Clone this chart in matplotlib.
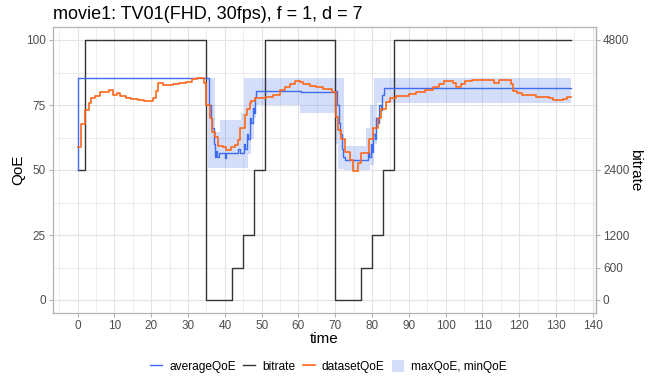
import matplotlib
matplotlib.use("Agg")
import matplotlib.pyplot as plt
from matplotlib.lines import Line2D
from matplotlib.patches import Patch
from matplotlib.ticker import MultipleLocator

# bitrate steps (kbps), value holds until the next time
bitrate_t = [0, 2, 35, 42, 45, 48, 51, 70, 77, 80, 83, 86, 134.2]
bitrate_v = [2400, 4800, 0, 600, 1200, 2400, 4800, 0, 600, 1200, 2400, 4800, 4800]

# averageQoE
avg_t = [0, 0.1, 35.6, 35.8, 36.2, 36.5, 37.0, 37.3, 37.6, 38.0, 38.5, 40.0, 40.4,
         43.5, 44.0, 44.8, 45.2, 45.6, 46.0, 46.4, 46.8, 47.2, 47.6, 48.0, 48.3, 48.6,
         60.7, 70.3, 70.6, 71.0, 71.4, 71.8, 72.2, 72.6, 78.5, 78.8, 79.2, 79.6, 80.0,
         80.4, 80.8, 81.2, 81.6, 82.0, 82.4, 82.8, 83.2, 134.2]
avg_v = [50, 85.5, 85.5, 75, 70, 66, 60, 55, 57.5, 55, 56.7, 54.5, 56.7,
         58, 56.7, 56.7, 60, 58, 64, 62, 70, 68, 74, 72, 78, 80.5,
         79.9, 80.2, 75, 68, 64, 58, 55, 53.8, 53.8, 57, 55, 60, 57,
         64, 62, 70, 68, 75, 73, 79, 81.5, 81.5]

# maxQoE / minQoE ribbon
rib_t = [0, 0.1, 35.0, 35.5, 37.3, 38.6, 44.5, 45.2, 46.2, 47.0, 47.8, 48.5,
         60.5, 70.2, 70.8, 72.3, 78.5, 79.5, 80.5, 81.3, 134.2]
rib_max = [50, 85.5, 85.5, 85.5, 64.7, 69.2, 72, 85.5, 85.5, 85.5, 85.5, 85.5,
           85.5, 85.5, 85.5, 59.2, 66, 75, 85.5, 85.5, 85.5]
rib_min = [50, 85.5, 85.5, 50.6, 50.6, 50.6, 50.6, 50.6, 56, 62, 70, 75,
           71.8, 60, 50.5, 50, 50, 52, 60, 75.6, 75.6]

# datasetQoE
ds_t = [0, 0.8, 2.0, 3.0, 3.7, 4.8, 6.0, 7.5, 8.5, 9.5, 10.6, 11.5, 13.2, 14.6,
        16.3, 18.0, 20.4, 21.3, 21.7, 23.1, 25.8, 27.6, 29.4, 31.2, 32.5, 33.9,
        34.3, 34.8, 36.0, 36.6, 37.3, 38.2, 39.5, 40.4, 41.8, 42.7, 43.6, 44.2,
        45.4, 46.0, 46.8, 47.2, 48.1, 51.3, 53.1, 54.9, 56.3, 57.6, 59.0, 60.4,
        61.3, 63.1, 64.9, 66.7, 69.0, 70.1, 70.8, 71.7, 72.8, 74.0, 74.9, 76.1,
        77.0, 79.1, 80.4, 81.6, 82.5, 83.7, 84.8, 86.6, 90.2, 92.0, 94.3, 96.5,
        98.3, 99.7, 101.9, 102.8, 104.2, 105.3, 107.3, 113.2, 114.4, 117.7,
        118.4, 119.5, 120.9, 124.5, 128.2, 129.1, 131.8, 133.0, 134.2]
ds_v = [58.7, 67.6, 73.1, 75.9, 77.6, 78.6, 80.1, 79.9, 80.6, 78.8, 79.5, 78.6,
        77.8, 77.3, 76.9, 76.5, 77.8, 80.4, 83.3, 82.7, 83.1, 83.6, 84.0, 84.9,
        85.5, 85.2, 83.6, 75.0, 69.9, 64.7, 62.8, 59.2, 58.7, 57.7, 58.7, 59.6,
        61.5, 66.0, 71.2, 73.3, 75.9, 76.7, 77.6, 78.2, 78.8, 80.8, 82.1, 83.1,
        84.4, 83.8, 83.1, 82.3, 81.8, 81.2, 80.1, 70.5, 65.4, 61.8, 57.0, 53.8,
        49.7, 52.6, 56.7, 61.8, 66.0, 69.9, 73.3, 76.3, 77.6, 78.6, 79.2, 79.9,
        80.8, 81.8, 82.9, 84.4, 83.6, 82.1, 83.1, 84.1, 84.6, 83.3, 84.6, 83.1,
        80.5, 79.7, 78.8, 78.2, 77.6, 76.9, 77.3, 78.0, 78.0]

title = "movie1: TV01(FHD, 30fps), f = 1, d = 7"
bitrate_ticks = [0, 600, 1200, 2400, 4800]
scale = 48.0  # QoE = bitrate / 48

blue = "#3D6CF0"
orange = "#FF6619"
border = "#B3B3B3"
gridc = "#E3E3E3"
txt = "#4D4D4D"

plt.rcParams["font.family"] = ["Liberation Sans", "DejaVu Sans"]

fig = plt.figure(figsize=(6.57, 3.79), dpi=100)
ax = fig.add_axes([53 / 657, 1 - 313 / 379, (596 - 53) / 657, (313 - 27) / 379])

# ribbon
ax.fill_between(rib_t, rib_min, rib_max, step="post", color=blue, alpha=0.22,
                linewidth=0)
# lines
ax.plot(bitrate_t, [b / scale for b in bitrate_v], drawstyle="steps-post",
        color="#333333", lw=1.0)
ax.plot(avg_t, avg_v, drawstyle="steps-post", color=blue, lw=1.0)
ax.plot(ds_t, ds_v, drawstyle="steps-post", color=orange, lw=1.2)

ax.set_xlim(-6.71, 140.9)
ax.set_ylim(-5, 105)
ax.xaxis.set_major_locator(MultipleLocator(10))
ax.xaxis.set_minor_locator(MultipleLocator(5))
ax.set_yticks([0, 25, 50, 75, 100])
ax.set_yticks([12.5, 37.5, 62.5, 87.5], minor=True)
ax.grid(True, which="major", color=gridc, lw=0.8)
ax.grid(True, which="minor", color=gridc, lw=0.45)
ax.set_axisbelow(True)
for s in ax.spines.values():
    s.set_color(border)
    s.set_linewidth(0.9)
ax.tick_params(which="major", length=3, color=border, labelcolor=txt,
               labelsize=8.5, pad=2)
ax.tick_params(which="minor", length=0)

ax.set_xlabel("time", fontsize=11, labelpad=0)
ax.set_ylabel("QoE", fontsize=11, labelpad=1)
ax.set_title(title, loc="left", fontsize=13, pad=6)

sec = ax.secondary_yaxis("right", functions=(lambda q: q * scale,
                                             lambda b: b / scale))
sec.set_yticks(bitrate_ticks)
sec.spines["right"].set_color(border)
sec.spines["right"].set_linewidth(0.9)
sec.tick_params(length=3, color=border, labelcolor=txt, labelsize=8.5, pad=2)
sec.set_ylabel("bitrate", fontsize=11, rotation=270, labelpad=9)

handles = [Line2D([], [], color=blue, lw=1.0),
           Line2D([], [], color="#333333", lw=1.0),
           Line2D([], [], color=orange, lw=1.2),
           Patch(facecolor=blue, alpha=0.22, edgecolor="none")]
labels = ["averageQoE", "bitrate", "datasetQoE", "maxQoE, minQoE"]
fig.legend(handles, labels, loc="center", bbox_to_anchor=(0.5, 0.034), ncol=4,
           frameon=False, fontsize=8.6, handlelength=1.0, handleheight=1.2,
           handletextpad=0.6, columnspacing=0.6)

fig.savefig("out.png", dpi=100)
